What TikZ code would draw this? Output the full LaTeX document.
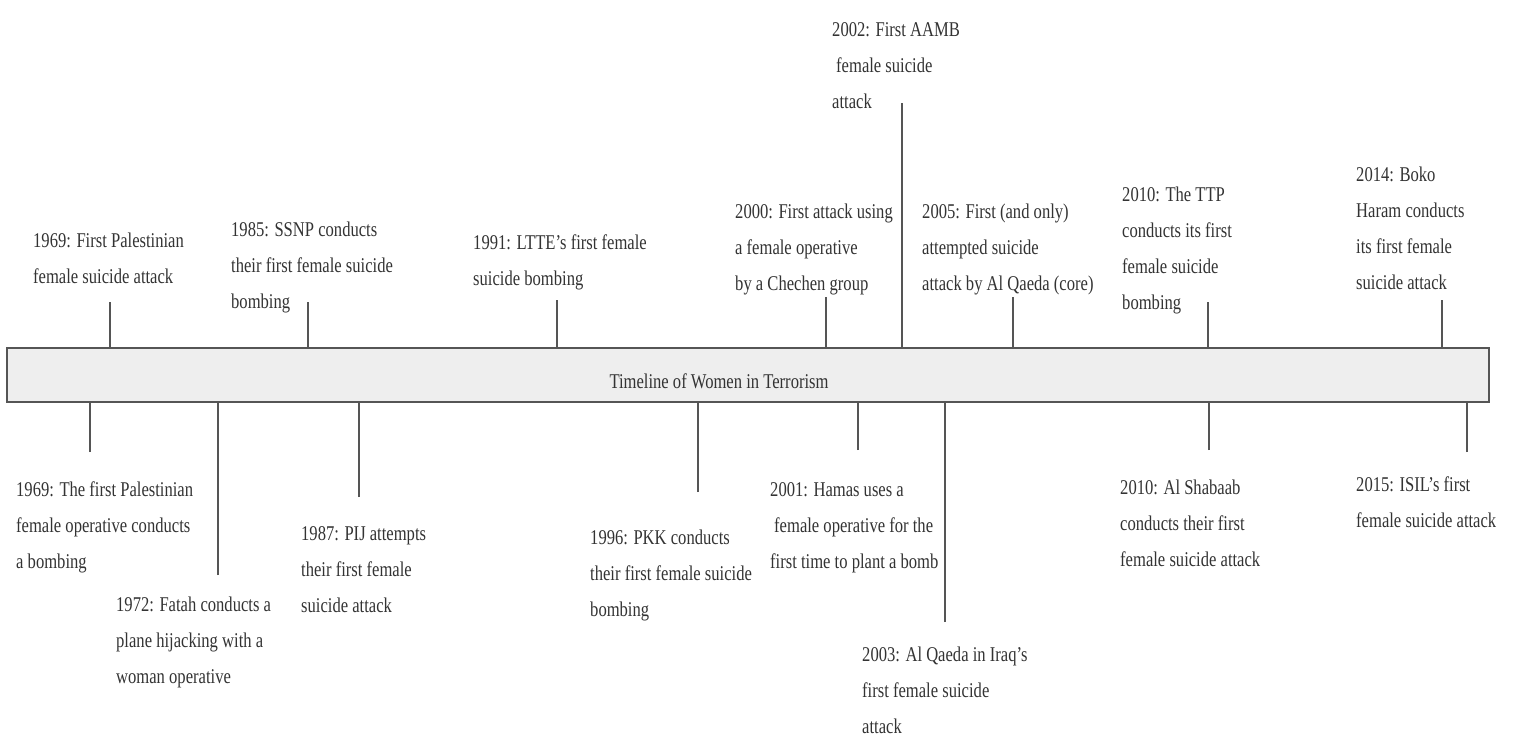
\documentclass[tikz,border=0pt]{standalone}
\usepackage{fontspec}
\setmainfont{Liberation Serif}[FakeStretch=0.79]
\definecolor{txt}{HTML}{333333}
\definecolor{ln}{HTML}{555555}
\definecolor{barfill}{HTML}{EEEEEE}
\begin{document}
\begin{tikzpicture}[x=1pt,y=-1pt,
  lab/.style={anchor=north west, align=left, inner sep=0pt, font=\fontsize{21}{36}\selectfont, text=txt},
  tick/.style={draw=ln, line width=1.8pt},
  barbox/.style={draw=ln, line width=2pt, fill=barfill, minimum width=1482pt, minimum height=54pt, inner sep=0pt}]
\useasboundingbox (0,0) rectangle (1515,753);
\node[barbox] (bar) at (748,375) {};
\node[font=\fontsize{21}{36}\selectfont, text=txt, inner sep=0pt] (title) at (719,381) {Timeline of Women in Terrorism};
% top labels
\node[lab] (a1) at (33,233) {1969: First Palestinian\\female suicide attack};
\node[lab] (a2) at (231,222) {1985: SSNP conducts\\their first female suicide\\bombing};
\node[lab] (a3) at (473,235) {1991: LTTE's first female\\suicide bombing};
\node[lab] (a4) at (735,204) {2000: First attack using\\a female operative\\by a Chechen group};
\node[lab] (a5) at (832,22) {2002: First AAMB\\\hspace*{4pt}female suicide\\attack};
\node[lab] (a6) at (922,204) {2005: First (and only)\\attempted suicide\\attack by Al Qaeda (core)};
\node[lab] (a7) at (1122,187) {2010: The TTP\\conducts its first\\female suicide\\bombing};
\node[lab] (a8) at (1356,167) {2014: Boko\\Haram conducts\\its first female\\suicide attack};
% bottom labels
\node[lab] (b1) at (16,482) {1969: The first Palestinian\\female operative conducts\\a bombing};
\node[lab] (b2) at (116,597) {1972: Fatah conducts a\\plane hijacking with a\\woman operative};
\node[lab] (b3) at (301,526) {1987: PIJ attempts\\their first female\\suicide attack};
\node[lab] (b4) at (590,530) {1996: PKK conducts\\their first female suicide\\bombing};
\node[lab] (b5) at (770,482) {2001: Hamas uses a\\\hspace*{4pt}female operative for the\\first time to plant a bomb};
\node[lab] (b6) at (862,647) {2003: Al Qaeda in Iraq's\\first female suicide\\attack};
\node[lab] (b7) at (1120,480) {2010: Al Shabaab\\conducts their first\\female suicide attack};
\node[lab] (b8) at (1356,477) {2015: ISIL's first\\female suicide attack};
% tick ends
\coordinate (ta1) at (110,302);
\coordinate (ta2) at (308,302);
\coordinate (ta3) at (557,300);
\coordinate (ta4) at (826,297);
\coordinate (ta5) at (902,103);
\coordinate (ta6) at (1013,297);
\coordinate (ta7) at (1208,302);
\coordinate (ta8) at (1442,300);
\coordinate (tb1) at (90,452);
\coordinate (tb2) at (218,575);
\coordinate (tb3) at (359,497);
\coordinate (tb4) at (698,492);
\coordinate (tb5) at (858,450);
\coordinate (tb6) at (945,622);
\coordinate (tb7) at (1209,450);
\coordinate (tb8) at (1467,452);
\foreach \t in {ta1,ta2,ta3,ta4,ta5,ta6,ta7,ta8}
  \draw[tick] (\t) -- (\t |- bar.north);
\foreach \t in {tb1,tb2,tb3,tb4,tb5,tb6,tb7,tb8}
  \draw[tick] (\t) -- (\t |- bar.south);
\end{tikzpicture}
\end{document}
